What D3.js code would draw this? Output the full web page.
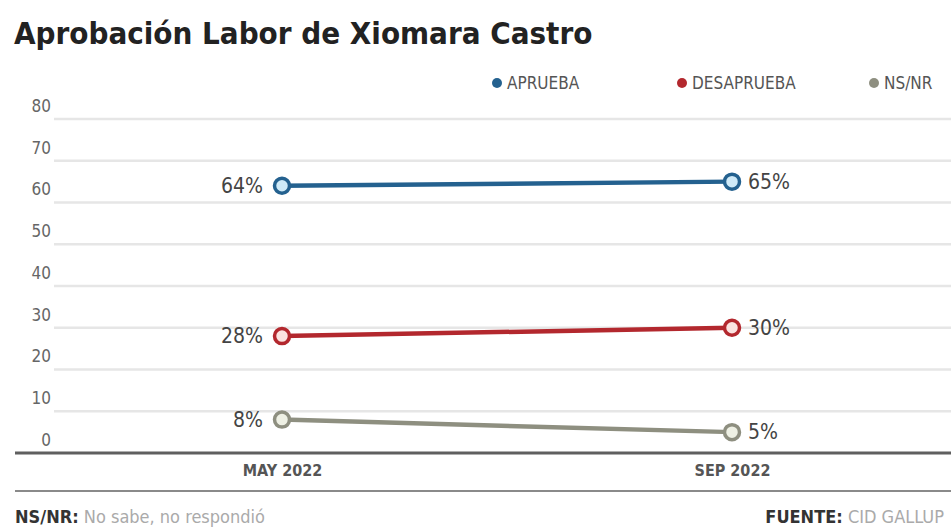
<!DOCTYPE html>
<html><head><meta charset="utf-8">
<script src="https://cdn.jsdelivr.net/npm/d3@7"></script>
<style>
body{margin:0;background:#fff;}
svg{display:block;}
text{font-family:"DejaVu Sans Condensed","Liberation Sans Narrow",sans-serif;}
</style></head>
<body>
<svg id="chart" width="951" height="529"></svg>
<script>
const title = "Aprobación Labor de Xiomara Castro";
const categories = ["MAY 2022", "SEP 2022"];
const seriesNames = ["APRUEBA", "DESAPRUEBA", "NS/NR"];
const aprueba = [64, 65];
const desaprueba = [28, 30];
const nsnr = [8, 5];
const yTicks = [0, 10, 20, 30, 40, 50, 60, 70, 80];
const lineColors = ["#24618f", "#b3282e", "#8e8f80"];
const fillColors = ["#cfeaf8", "#fbe3e0", "#eef0e4"];

const series = [aprueba, desaprueba, nsnr].map((v, i) => ({name: seriesNames[i], values: v, color: lineColors[i], fill: fillColors[i]}));

const svg = d3.select("#chart");
const x = d3.scalePoint().domain(categories).range([282, 732]);
const y = d3.scaleLinear().domain([0, 80]).range([453, 119]);

// title
svg.append("text").attr("x", 14).attr("y", 44)
  .attr("font-size", 31).attr("font-weight", "bold").attr("fill", "#222")
  .text(title);

// legend
const legendX = [497, 682, 874];
const lg = svg.append("g");
series.forEach((s, i) => {
  lg.append("circle").attr("cx", legendX[i]).attr("cy", 83).attr("r", 5).attr("fill", s.color);
  lg.append("text").attr("x", legendX[i] + 10).attr("y", 89)
    .attr("font-size", 17).attr("fill", "#555").text(s.name);
});

// gridlines
svg.append("g").selectAll("line").data(yTicks.filter(d => d > 0)).join("line")
  .attr("x1", 54).attr("x2", 951)
  .attr("y1", d => y(d)).attr("y2", d => y(d))
  .attr("stroke", "#e6e6e6").attr("stroke-width", 2.5);

// y axis labels (above grid lines)
const yAxis = d3.axisLeft(y).tickValues(yTicks).tickSize(0).tickPadding(0);
const yg = svg.append("g").attr("transform", "translate(51,-13)").call(yAxis);
yg.select(".domain").remove();
yg.selectAll("text").attr("font-size", 17).attr("fill", "#666")
  .style("font-family", '"DejaVu Sans Condensed",sans-serif');

// baseline
svg.append("line").attr("x1", 15).attr("x2", 951).attr("y1", y(0)).attr("y2", y(0))
  .attr("stroke", "#5f5f5f").attr("stroke-width", 3);
svg.append("line").attr("x1", 15).attr("x2", 951).attr("y1", 491).attr("y2", 491)
  .attr("stroke", "#8a8a8a").attr("stroke-width", 2);

// x axis labels
const xAxis = d3.axisBottom(x).tickSize(0).tickPadding(0);
const xg = svg.append("g").attr("transform", "translate(0,465)").call(xAxis);
xg.select(".domain").remove();
xg.selectAll("text").attr("font-size", 16).attr("font-weight", "bold").attr("fill", "#555")
  .style("font-family", '"DejaVu Sans Condensed",sans-serif');

// lines
const line = d3.line().x((d, i) => x(categories[i])).y(d => y(d));
series.forEach(s => {
  svg.append("path").datum(s.values).attr("d", line)
    .attr("fill", "none").attr("stroke", s.color).attr("stroke-width", 4.5);
});
series.forEach(s => {
  svg.append("g").selectAll("circle").data(s.values).join("circle")
    .attr("cx", (d, i) => x(categories[i])).attr("cy", d => y(d)).attr("r", 7.5)
    .attr("fill", s.fill).attr("stroke", s.color).attr("stroke-width", 3.5);
  // labels
  svg.append("g").selectAll("text").data(s.values).join("text")
    .attr("x", (d, i) => x(categories[i]) + (i === 0 ? -19 : 16))
    .attr("y", d => y(d) + 7)
    .attr("text-anchor", (d, i) => i === 0 ? "end" : "start")
    .attr("font-size", 21).attr("fill", "#444")
    .text(d => d + "%");
});

// footer
const f1 = svg.append("text").attr("x", 15).attr("y", 523).attr("font-size", 18);
f1.append("tspan").attr("font-weight", "bold").attr("fill", "#333").text("NS/NR:");
f1.append("tspan").attr("fill", "#aaa").text(" No sabe, no respondió");
const f2 = svg.append("text").attr("x", 944).attr("y", 523).attr("font-size", 18).attr("text-anchor", "end");
f2.append("tspan").attr("font-weight", "bold").attr("fill", "#333").text("FUENTE:");
f2.append("tspan").attr("fill", "#aaa").text(" CID GALLUP");
</script>
</body></html>
